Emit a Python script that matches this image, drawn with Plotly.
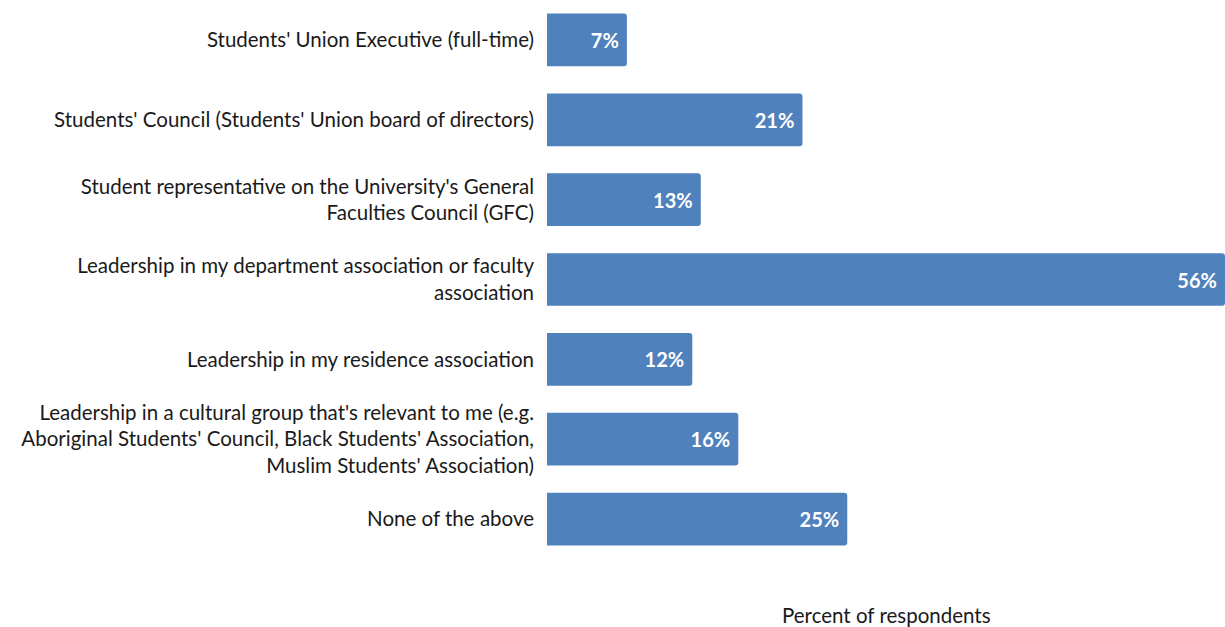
import plotly.graph_objects as go

categories = [
    "Students' Union Executive (full-time)",
    "Students' Council (Students' Union board of directors)",
    "Student representative on the University's General<br>Faculties Council (GFC)",
    "Leadership in my department association or faculty<br>association",
    "Leadership in my residence association",
    "Leadership in a cultural group that's relevant to me (e.g.<br>Aboriginal Students' Council, Black Students' Association,<br>Muslim Students' Association)",
    "None of the above",
]
values = [6.6, 21.1, 12.7, 56.0, 12.0, 15.8, 24.8]
axis_title = "Percent of respondents"

FONT = "Lato"
BAR_COLOR = "#4F81BD"

fig = go.Figure(go.Bar(
    y=categories,
    x=values,
    orientation="h",
    marker=dict(color=BAR_COLOR, cornerradius=3, line=dict(width=0)),
    texttemplate="<b>%{x:.0f}%</b> ",
    textposition="inside",
    insidetextanchor="end",
    textangle=0,
    textfont=dict(family=FONT, size=20, color="white"),
    cliponaxis=False,
    width=0.66,
))

fig.update_layout(
    width=1225, height=627,
    margin=dict(l=547, r=0, t=0, b=68),
    paper_bgcolor="white", plot_bgcolor="white",
    showlegend=False,
    font=dict(family=FONT, size=20.5, color="#1a1a1a"),
    uniformtext=dict(minsize=8, mode="show"),
    xaxis=dict(range=[0, 56], showgrid=False, zeroline=False, showticklabels=False,
               showline=False, ticks="", fixedrange=True),
    yaxis=dict(autorange=False, range=[6.5, -0.5], showgrid=False, zeroline=False,
               showline=False, ticks="", ticklabelstandoff=12,
               tickfont=dict(family=FONT, size=20.5, color="#1a1a1a")),
    annotations=[dict(text=axis_title, x=0.5, xref="paper", y=-56/559, yref="paper",
                      xanchor="center", yanchor="middle", showarrow=False,
                      font=dict(family=FONT, size=20.5, color="#1a1a1a"))],
)

fig.write_html("out.html")
